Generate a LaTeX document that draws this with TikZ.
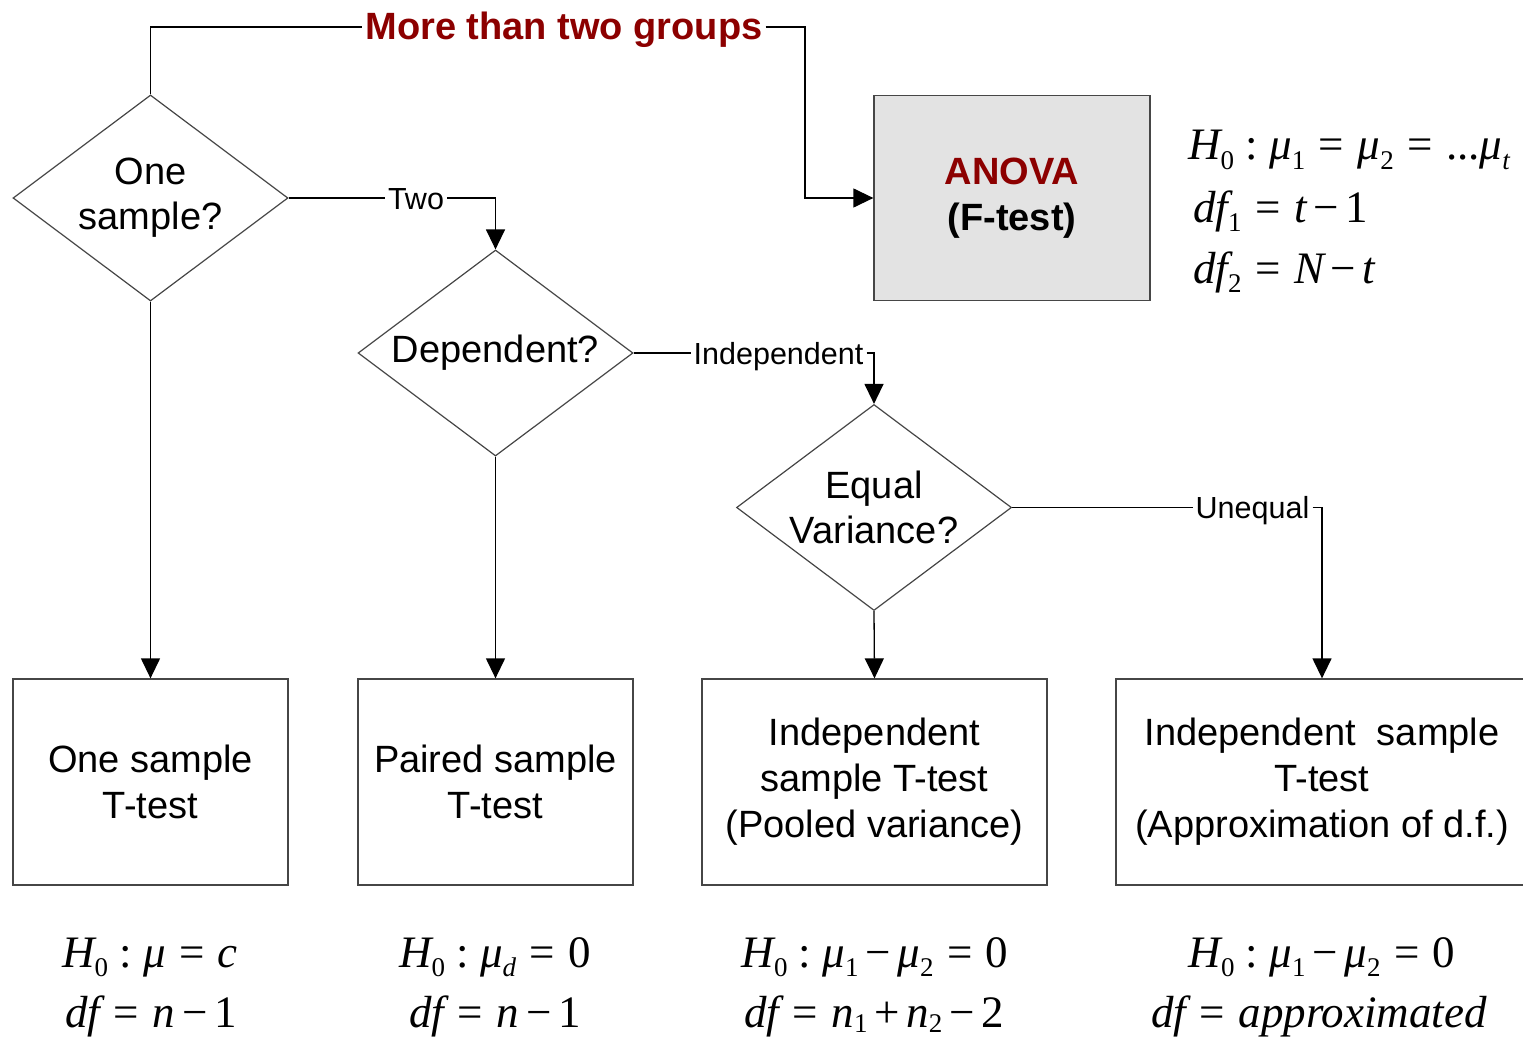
\documentclass[tikz,border=0pt]{standalone}
\usepackage{fontspec}
\setmainfont{Liberation Sans}
\newfontfamily\tnr{Liberation Serif}
\usetikzlibrary{shapes.geometric,arrows.meta}
\definecolor{darkred}{RGB}{140,0,0}
\definecolor{anovagray}{RGB}{227,227,227}
\definecolor{edgegray}{RGB}{70,70,70}
\newcommand\sbu[1]{\raisebox{-0.22em}{\fontsize{27}{27}\selectfont\upshape #1}}
\newcommand\sbi[1]{\raisebox{-0.22em}{\fontsize{27}{27}\selectfont\itshape #1}}
\newcommand\sbl[1]{\raisebox{-0.12em}{\fontsize{27}{27}\selectfont\upshape #1}}
\newcommand\eqs{\hspace{0.3em}=\hspace{0.3em}}
\newcommand\mns{\hspace{0.15em}−\hspace{0.15em}}
\newcommand\pls{\hspace{0.15em}+\hspace{0.15em}}
\begin{document}
\begin{tikzpicture}[x=1pt,y=-1pt,
  decision/.style={diamond, draw=edgegray, line width=1.2pt, aspect=1.335,
    minimum width=275pt, minimum height=206pt, inner sep=0pt, align=center,
    font=\fontsize{38}{45}\selectfont},
  result/.style={rectangle, draw=edgegray, line width=1.3pt, minimum height=206pt,
    align=center, font=\fontsize{38}{46}\selectfont},
  lbl/.style={font=\fontsize{30.5}{30.5}\selectfont, inner xsep=3pt, inner ysep=0pt,
    text height=28pt, text depth=6pt},
  biglbl/.style={font=\fontsize{38}{38}\selectfont\bfseries, text=darkred,
    inner xsep=3pt, inner ysep=0pt, text height=35pt, text depth=9pt},
  formula/.style={font=\fontsize{45}{45}\selectfont\tnr, inner sep=0pt},
  conn/.style={line width=1.3pt, draw=black},
  arr/.style={conn, -{Triangle[length=20pt,width=19pt]}}
]
\clip (0,0) rectangle (1523,1038);
\fill[white] (0,0) rectangle (1523,1038);

% decisions
\node[decision] (d1) at (150.5,198) {One\\sample?};
\node[decision] (d2) at (495.5,353) {Dependent?};
\node[decision] (d3) at (874,507.5) {Equal\\Variance?};

% ANOVA
\node[rectangle, draw=edgegray, fill=anovagray, line width=1.3pt,
  minimum width=276pt, minimum height=205pt, align=center,
  font=\fontsize{38}{46}\selectfont\bfseries] (anova) at (1012,198)
  {\textcolor{darkred}{ANOVA}\\(F-test)};

% results
\node[result, minimum width=275pt] (r1) at (150.5,782) {One sample\\T-test};
\node[result, minimum width=275pt] (r2) at (495.5,782) {Paired sample\\T-test};
\node[result, minimum width=345pt] (r3) at (874.5,782) {Independent\\sample T-test\\(Pooled variance)};
\node[result, minimum width=412pt] (r4) at (1322,782) {Independent~ sample\\T-test\\(Approximation of d.f.)};

% labels
\node[biglbl] (more) at (564,27) {More than two groups};
\node[lbl] (two) at (416,198) {Two};
\node[lbl] (indep) at (778.5,353) {Independent};
\node[lbl] (uneq) at (1252.5,507.5) {Unequal};

\coordinate (c1) at (805,198);

% connectors
\draw[conn] (d1.north) |- (more.west);
\draw[arr] (more.east) -| (c1) -- (anova.west);
\draw[conn] (d1.east) -- (two.west);
\draw[arr] (two.east) -| (d2.north);
\draw[conn] (d2.east) -- (indep.west);
\draw[arr] (indep.east) -| (d3.north);
\draw[conn] (d3.east) -- (uneq.west);
\draw[arr] (uneq.east) -| (r4.north);
\draw[arr] (d1.south) -- (r1.north);
\draw[arr] (d2.south) -- (r2.north);
\draw[arr] (d3.south) -- (r3.north);

% formulas top right
\node[formula, anchor=base west] (fa1) at (1188,160) {\itshape H\sbu{0}\upshape\ :\ \itshape μ\sbu{1}\upshape\eqs\itshape μ\sbu{2}\upshape\eqs...\itshape μ\sbi{t}};
\node[formula, anchor=base west] (fa2) at (1193,222) {\itshape df\sbu{1}\upshape\eqs\itshape t\upshape\mns 1};
\node[formula, anchor=base west] (fa3) at (1193,283) {\itshape df\sbu{2}\upshape\eqs\itshape N\upshape\mns\itshape t};

% formulas bottom
\node[formula, anchor=base] (f1a) at (150,967) {\itshape H\sbu{0}\upshape\ :\ \itshape μ\upshape\eqs\itshape c};
\node[formula, anchor=base] (f1b) at (151,1027) {\itshape df\upshape\eqs\itshape n\upshape\mns 1};
\node[formula, anchor=base] (f2a) at (495,967) {\itshape H\sbu{0}\upshape\ :\ \itshape μ\sbi{d}\upshape\eqs 0};
\node[formula, anchor=base] (f2b) at (495,1027) {\itshape df\upshape\eqs\itshape n\upshape\mns 1};
\node[formula, anchor=base] (f3a) at (875,967) {\itshape H\sbu{0}\upshape\ :\ \itshape μ\sbu{1}\upshape\mns\itshape μ\sbu{2}\upshape\eqs 0};
\node[formula, anchor=base] (f3b) at (874,1027) {\itshape df\upshape\eqs\itshape n\sbl{1}\upshape\pls\itshape n\sbl{2}\upshape\mns 2};
\node[formula, anchor=base] (f4a) at (1322,967) {\itshape H\sbu{0}\upshape\ :\ \itshape μ\sbu{1}\upshape\mns\itshape μ\sbu{2}\upshape\eqs 0};
\node[formula, anchor=base] (f4b) at (1319,1027) {\itshape df\upshape\eqs\itshape approximated};
\end{tikzpicture}
\end{document}
